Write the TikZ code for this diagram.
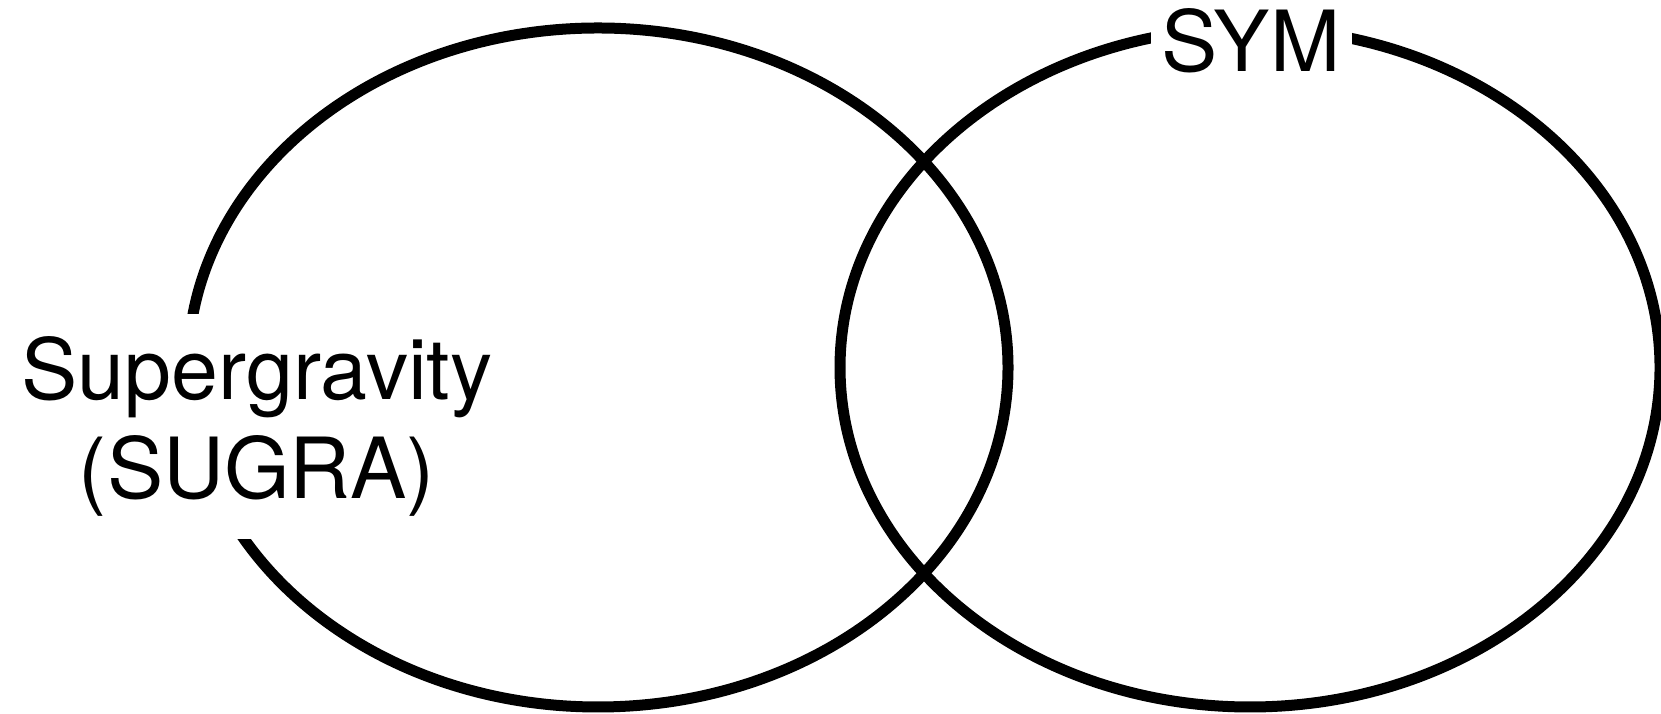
\documentclass[tikz,border=0pt]{standalone}
\usepackage{fontspec}
\setmainfont{TeX Gyre Heros}
\usetikzlibrary{shapes.geometric}
\begin{document}
\begin{tikzpicture}[
    ring/.style={draw, ellipse, line width=0.11cm, minimum width=8.2cm, minimum height=6.79cm, inner sep=0pt},
    tag/.style={fill=white, inner sep=0pt, font=\fontsize{24}{28}\selectfont}]
    \useasboundingbox (0,0) rectangle (16.61,7.14);
    % the two rings
    \node[ring] (sugra) at (5.98, 3.465) {};
    \node[ring] (sym) at (12.50, 3.465) {};
    % labels, cut into the rings
    \node[tag, align=center, minimum width=5.2cm, minimum height=2.25cm] (sugralabel) at (2.57, 2.875) {Supergravity\\(SUGRA)};
    \node[tag, anchor=base, minimum width=2.01cm, minimum height=1.2cm] (symlabel) at (12.51, 6.425) {SYM};
\end{tikzpicture}
\end{document}
